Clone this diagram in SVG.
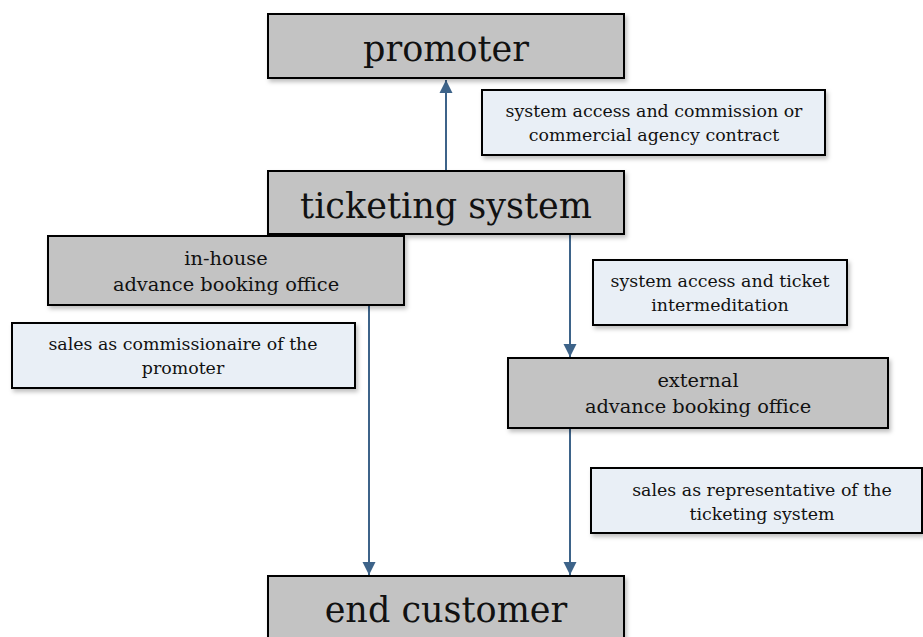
<svg xmlns="http://www.w3.org/2000/svg" width="923" height="637" viewBox="0 0 923 637">
<defs>
<style>
.node{fill:#c3c3c3;stroke:#000;stroke-width:2}
.note{fill:#e9eff6;stroke:#000;stroke-width:2}
.big{font-family:"DejaVu Serif","Liberation Serif",serif;font-size:35px;fill:#111;text-anchor:middle}
.mid{font-family:"DejaVu Serif","Liberation Serif",serif;font-size:19.4px;fill:#111;text-anchor:middle}
.sm{font-family:"DejaVu Serif","Liberation Serif",serif;font-size:17.4px;fill:#111;text-anchor:middle}
.conn{stroke:#3d6389;stroke-width:2;fill:none;marker-end:url(#ah)}
</style>
<filter id="sh" x="-5%" y="-10%" width="115%" height="130%">
<feDropShadow dx="2" dy="3" stdDeviation="2" flood-color="#000" flood-opacity="0.25"/>
</filter>
<marker id="ah" viewBox="0 0 10 10" refX="10" refY="5" markerWidth="6.5" markerHeight="7" markerUnits="strokeWidth" orient="auto">
<path d="M0,0 L10,5 L0,10 z" fill="#3d6389"/>
</marker>
</defs>
<g id="connectors">
<line class="conn" x1="446" y1="170" x2="446" y2="80"/>
<line class="conn" x1="570" y1="234" x2="570" y2="357"/>
<line class="conn" x1="369" y1="305" x2="369" y2="575"/>
<line class="conn" x1="570" y1="428" x2="570" y2="575"/>
</g>
<g id="promoter">
<rect class="node" filter="url(#sh)" x="268" y="14" width="356" height="64"/>
<text class="big" x="446" y="61">promoter</text>
</g>
<g id="note-commission">
<rect class="note" filter="url(#sh)" x="482" y="90" width="343" height="65"/>
<text class="sm" x="654" y="117">system access and commission or</text>
<text class="sm" x="654" y="141">commercial agency contract</text>
</g>
<g id="ticketing-system">
<rect class="node" filter="url(#sh)" x="268" y="171" width="356" height="63"/>
<text class="big" x="446" y="218">ticketing system</text>
</g>
<g id="in-house">
<rect class="node" filter="url(#sh)" x="48" y="236" width="356" height="69"/>
<text class="mid" x="226" y="265">in-house</text>
<text class="mid" x="226" y="291">advance booking office</text>
</g>
<g id="note-commissionaire">
<rect class="note" filter="url(#sh)" x="12" y="323" width="343" height="65"/>
<text class="sm" x="183" y="350">sales as commissionaire of the</text>
<text class="sm" x="183" y="374">promoter</text>
</g>
<g id="note-intermediation">
<rect class="note" filter="url(#sh)" x="593" y="260" width="254" height="65"/>
<text class="sm" x="720" y="287">system access and ticket</text>
<text class="sm" x="720" y="311">intermeditation</text>
</g>
<g id="external">
<rect class="node" filter="url(#sh)" x="508" y="358" width="380" height="70"/>
<text class="mid" x="698" y="387">external</text>
<text class="mid" x="698" y="413">advance booking office</text>
</g>
<g id="note-representative">
<rect class="note" filter="url(#sh)" x="591" y="468" width="331" height="65"/>
<text class="sm" x="762" y="496">sales as representative of the</text>
<text class="sm" x="762" y="520">ticketing system</text>
</g>
<g id="end-customer">
<rect class="node" filter="url(#sh)" x="268" y="576" width="356" height="70"/>
<text class="big" x="446" y="622">end customer</text>
</g>
</svg>
